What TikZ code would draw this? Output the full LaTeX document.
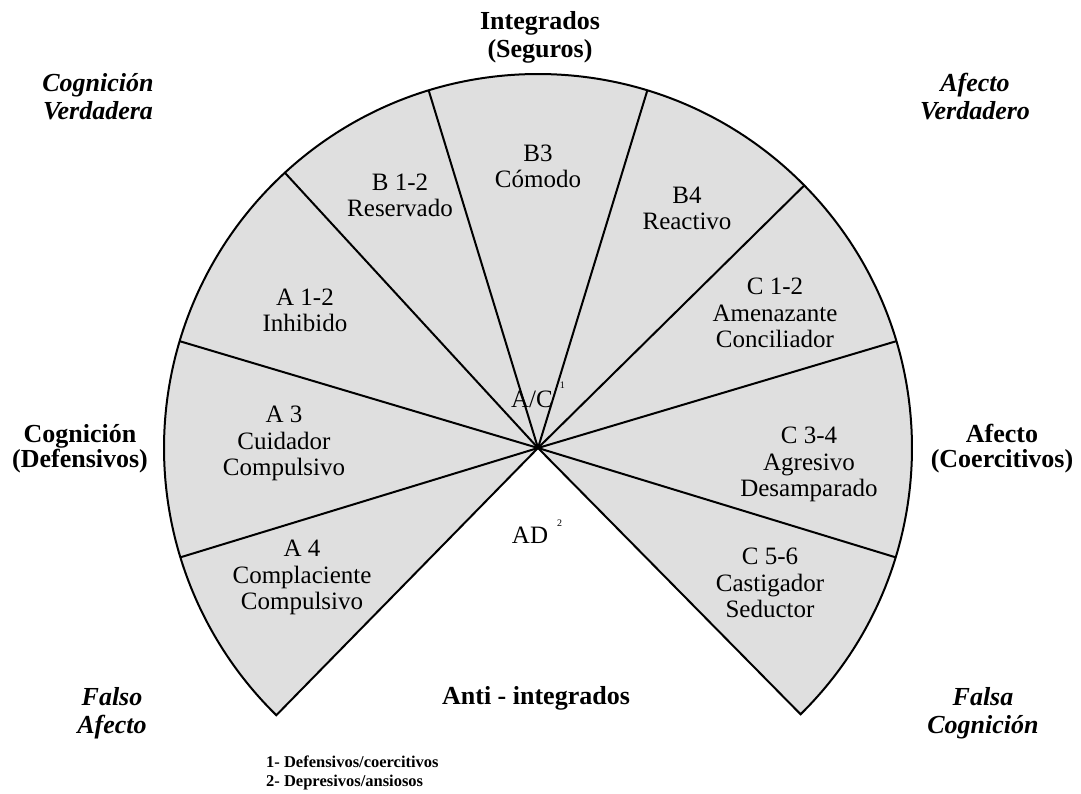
\documentclass[tikz,border=0pt]{standalone}
\usepackage{fontspec}
\setmainfont{Liberation Serif}
\usetikzlibrary{calc}
\definecolor{sectorgray}{gray}{0.875}
\def\spoke(#1){\draw[spoke] (O) -- ++(#1:374);}
\tikzset{
  spoke/.style={line width=2pt},
  sector/.style={align=center, anchor=base, inner sep=0pt, font=\fontsize{25}{26.5}\selectfont},
  pole/.style={align=center, anchor=base, inner sep=0pt, font=\bfseries\fontsize{26}{28}\selectfont},
  side/.style={pole, font=\bfseries\fontsize{26}{25}\selectfont},
  corner/.style={pole, font=\bfseries\itshape\fontsize{26}{28}\selectfont},
}

\begin{document}
\begin{tikzpicture}[x=1pt, y=1pt]
  %%%%% START %%%%%
  \useasboundingbox (0,0) rectangle (1081,794);
  \coordinate (O) at (538,346);

  % fan of sectors
  \draw[fill=sectorgray, line width=2pt] (O) -- ++(-45.4:374)
    arc[start angle=-45.4, end angle=225.6, radius=374] -- cycle;
  \spoke(-17) \spoke(16.6) \spoke(44.6) \spoke(73)
  \spoke(107) \spoke(132.6) \spoke(163.4) \spoke(197)

  % sector labels (placed by the baseline of their last line)
  \node[sector] (b12) at (400,577) {B 1-2\\Reservado};
  \node[sector] (b3)  at (538,606) {B3\\Cómodo};
  \node[sector] (b4)  at (687,564) {B4\\Reactivo};
  \node[sector] (a12) at (305,462) {A 1-2\\Inhibido};
  \node[sector] (c12) at (775,446) {C 1-2\\Amenazante\\Conciliador};
  \node[sector] (a3)  at (284,318) {A 3\\Cuidador\\Compulsivo};
  \node[sector] (c34) at (809,297) {C 3-4\\Agresivo\\Desamparado};
  \node[sector] (a4)  at (302,184) {A 4\\Complaciente\\Compulsivo};
  \node[sector] (c56) at (770,176) {C 5-6\\Castigador\\Seductor};
  \node[sector] (ac)  at (538,386) {A/C\hspace{7pt}\raisebox{19pt}{\fontsize{10}{10}\selectfont 1}};
  \node[sector] (ad)  at (537,250) {AD\hspace{9pt}\raisebox{17pt}{\fontsize{10}{10}\selectfont 2}};

  % poles
  \node[pole] (integ) at (540,736) {Integrados\\(Seguros)};
  \node[pole] (anti)  at (536,89) {Anti - integrados};
  \node[side] (cogdef) at (80,326) {Cognición\\(Defensivos)};
  \node[side] (afcoe)  at (1002,326) {Afecto\\(Coercitivos)};
  \node[corner] (cogver) at (98,674) {Cognición\\Verdadera};
  \node[corner] (afver)  at (975,674) {Afecto\\Verdadero};
  \node[corner] (falaf)  at (112,60) {Falso\\Afecto};
  \node[corner] (falcog) at (983,60) {Falsa\\Cognición};

  % notes
  \node[anchor=base west, align=left, inner sep=0pt, font=\bfseries\fontsize{16.5}{19}\selectfont]
    (notes) at (266,7) {1- Defensivos/coercitivos\\2- Depresivos/ansiosos};
  %%%%% END %%%%%
\end{tikzpicture}
\end{document}
